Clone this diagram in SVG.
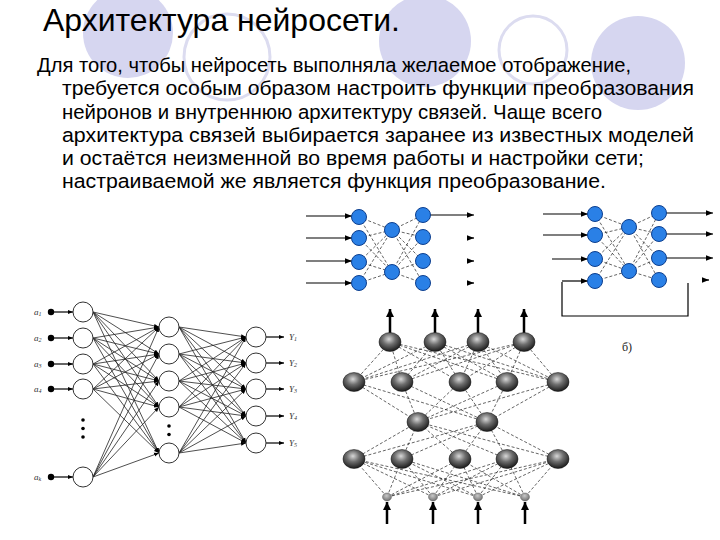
<svg xmlns="http://www.w3.org/2000/svg" width="720" height="540" viewBox="0 0 720 540">
<style>
.deco-f{fill:#d6d6f0;stroke:none}
.deco-o{fill:none;stroke:#dcdcf0;stroke-width:3}
.title{font-family:"Liberation Sans",Arial,sans-serif;font-size:32px;fill:#000}
.body{font-family:"Liberation Sans",Arial,sans-serif;font-size:20.5px;fill:#000}
.lbl{font-family:"Liberation Serif","Times New Roman",serif;font-style:italic;font-size:9px;fill:#333}
.sub{font-size:6px}
.wire{stroke:#222;stroke-width:0.8;fill:none}
.dash{stroke:#222;stroke-width:0.7;stroke-dasharray:3 2;fill:none}
.arr{stroke:#000;stroke-width:1.2;fill:none}
.thick{stroke:#000;stroke-width:2.5;fill:none}
.ncirc{fill:#fff;stroke:#333;stroke-width:1}
.blue{fill:#2a80e6;stroke:#0d3f8f;stroke-width:1}
.sph{fill:url(#sg);stroke:#111;stroke-width:0.5}
.sphs{fill:url(#sg2);stroke:#444;stroke-width:0.4}
</style>
<defs>
<marker id="ah" viewBox="0 0 10 10" refX="10" refY="5" markerWidth="5" markerHeight="5" orient="auto" markerUnits="userSpaceOnUse"><path d="M0,1 L10,5 L0,9 z" fill="#000"/></marker>
<marker id="ab" viewBox="0 0 10 10" refX="10" refY="5" markerWidth="7" markerHeight="7" orient="auto" markerUnits="userSpaceOnUse"><path d="M0,1 L10,5 L0,9 z" fill="#000"/></marker>
<marker id="at" viewBox="0 0 10 10" refX="10" refY="5" markerWidth="8" markerHeight="8" orient="auto" markerUnits="userSpaceOnUse"><path d="M0,0 L10,5 L0,10 z" fill="#000"/></marker>
<radialGradient id="sg" cx="0.45" cy="0.35" r="0.65">
<stop offset="0" stop-color="#d8d8d8"/><stop offset="0.45" stop-color="#6e6e6e"/><stop offset="1" stop-color="#1a1a1a"/>
</radialGradient>
<radialGradient id="sg2" cx="0.45" cy="0.35" r="0.65">
<stop offset="0" stop-color="#c8c8c8"/><stop offset="1" stop-color="#707070"/>
</radialGradient>
</defs>
<rect width="720" height="540" fill="#fff"/>
<g id="decor">
<circle class="deco-f" cx="128" cy="33" r="45"/>
<circle class="deco-o" cx="227" cy="57" r="43"/>
<circle class="deco-f" cx="425" cy="41" r="46"/>
<circle class="deco-o" cx="533" cy="50" r="34"/>
<circle class="deco-f" cx="638" cy="63" r="47"/>
</g>
<g id="title"><text class="title" x="43" y="31" textLength="357" lengthAdjust="spacingAndGlyphs">Архитектура нейросети.</text></g>
<g id="paragraph">
<text class="body" x="37" y="72" textLength="594" lengthAdjust="spacingAndGlyphs">Для того, чтобы нейросеть выполняла желаемое отображение,</text>
<text class="body" x="62" y="95" textLength="632" lengthAdjust="spacingAndGlyphs">требуется особым образом настроить функции преобразования</text>
<text class="body" x="62" y="118.5" textLength="540" lengthAdjust="spacingAndGlyphs">нейронов и внутреннюю архитектуру связей. Чаще всего</text>
<text class="body" x="62" y="142" textLength="632" lengthAdjust="spacingAndGlyphs">архитектура связей выбирается заранее из известных моделей</text>
<text class="body" x="62" y="165" textLength="582" lengthAdjust="spacingAndGlyphs">и остаётся неизменной во время работы и настройки сети;</text>
<text class="body" x="62" y="188" textLength="544" lengthAdjust="spacingAndGlyphs">настраиваемой же является функция преобразование.</text>
</g>

<!-- Left network -->
<g id="net-left-connectors">
<path class="arr" marker-end="url(#ah)" d="M51,312 L73,312"/>
<path class="arr" marker-end="url(#ah)" d="M51,338 L73,338"/>
<path class="arr" marker-end="url(#ah)" d="M51,364 L73,364"/>
<path class="arr" marker-end="url(#ah)" d="M51,389 L73,389"/>
<path class="arr" marker-end="url(#ah)" d="M51,477 L73,477"/>
<g class="wire" marker-end="url(#ah)">
<line x1="93" y1="312" x2="159" y2="327"/><line x1="93" y1="312" x2="159" y2="354"/><line x1="93" y1="312" x2="159" y2="381"/><line x1="93" y1="312" x2="159" y2="407"/><line x1="93" y1="312" x2="159" y2="453"/>
<line x1="93" y1="338" x2="159" y2="327"/><line x1="93" y1="338" x2="159" y2="354"/><line x1="93" y1="338" x2="159" y2="381"/><line x1="93" y1="338" x2="159" y2="407"/><line x1="93" y1="338" x2="159" y2="453"/>
<line x1="93" y1="364" x2="159" y2="327"/><line x1="93" y1="364" x2="159" y2="354"/><line x1="93" y1="364" x2="159" y2="381"/><line x1="93" y1="364" x2="159" y2="407"/><line x1="93" y1="364" x2="159" y2="453"/>
<line x1="93" y1="389" x2="159" y2="327"/><line x1="93" y1="389" x2="159" y2="354"/><line x1="93" y1="389" x2="159" y2="381"/><line x1="93" y1="389" x2="159" y2="407"/><line x1="93" y1="389" x2="159" y2="453"/>
<line x1="93" y1="477" x2="159" y2="327"/><line x1="93" y1="477" x2="159" y2="354"/><line x1="93" y1="477" x2="159" y2="381"/><line x1="93" y1="477" x2="159" y2="407"/><line x1="93" y1="477" x2="159" y2="453"/>
<line x1="179" y1="327" x2="246" y2="337"/><line x1="179" y1="327" x2="246" y2="363"/><line x1="179" y1="327" x2="246" y2="389"/><line x1="179" y1="327" x2="246" y2="416"/><line x1="179" y1="327" x2="246" y2="443"/>
<line x1="179" y1="354" x2="246" y2="337"/><line x1="179" y1="354" x2="246" y2="363"/><line x1="179" y1="354" x2="246" y2="389"/><line x1="179" y1="354" x2="246" y2="416"/><line x1="179" y1="354" x2="246" y2="443"/>
<line x1="179" y1="381" x2="246" y2="337"/><line x1="179" y1="381" x2="246" y2="363"/><line x1="179" y1="381" x2="246" y2="389"/><line x1="179" y1="381" x2="246" y2="416"/><line x1="179" y1="381" x2="246" y2="443"/>
<line x1="179" y1="407" x2="246" y2="337"/><line x1="179" y1="407" x2="246" y2="363"/><line x1="179" y1="407" x2="246" y2="389"/><line x1="179" y1="407" x2="246" y2="416"/><line x1="179" y1="407" x2="246" y2="443"/>
<line x1="179" y1="453" x2="246" y2="337"/><line x1="179" y1="453" x2="246" y2="363"/><line x1="179" y1="453" x2="246" y2="389"/><line x1="179" y1="453" x2="246" y2="416"/><line x1="179" y1="453" x2="246" y2="443"/>
</g>
<path class="arr" marker-end="url(#ah)" d="M266,337 L284,337"/>
<path class="arr" marker-end="url(#ah)" d="M266,363 L284,363"/>
<path class="arr" marker-end="url(#ah)" d="M266,389 L284,389"/>
<path class="arr" marker-end="url(#ah)" d="M266,416 L284,416"/>
<path class="arr" marker-end="url(#ah)" d="M266,443 L284,443"/>
</g>
<g id="net-left-nodes">
<g fill="#000"><circle cx="51" cy="312" r="3.2"/><circle cx="51" cy="338" r="3.2"/><circle cx="51" cy="364" r="3.2"/><circle cx="51" cy="389" r="3.2"/><circle cx="51" cy="477" r="3.2"/>
<circle cx="83" cy="420" r="1.8"/><circle cx="83" cy="428.5" r="1.8"/><circle cx="83" cy="437" r="1.8"/>
<circle cx="169" cy="426" r="1.8"/><circle cx="169" cy="434.5" r="1.8"/></g>
<circle class="ncirc" cx="83" cy="312" r="10"/><circle class="ncirc" cx="83" cy="338" r="10"/><circle class="ncirc" cx="83" cy="364" r="10"/><circle class="ncirc" cx="83" cy="389" r="10"/><circle class="ncirc" cx="83" cy="477" r="10"/>
<circle class="ncirc" cx="169" cy="327" r="10"/><circle class="ncirc" cx="169" cy="354" r="10"/><circle class="ncirc" cx="169" cy="381" r="10"/><circle class="ncirc" cx="169" cy="407" r="10"/><circle class="ncirc" cx="169" cy="453" r="10"/>
<circle class="ncirc" cx="256" cy="337" r="10"/><circle class="ncirc" cx="256" cy="363" r="10"/><circle class="ncirc" cx="256" cy="389" r="10"/><circle class="ncirc" cx="256" cy="416" r="10"/><circle class="ncirc" cx="256" cy="443" r="10"/>
<text class="lbl" x="34" y="315">a<tspan class="sub" dy="1">1</tspan></text>
<text class="lbl" x="34" y="341">a<tspan class="sub" dy="1">2</tspan></text>
<text class="lbl" x="34" y="367">a<tspan class="sub" dy="1">3</tspan></text>
<text class="lbl" x="34" y="392">a<tspan class="sub" dy="1">4</tspan></text>
<text class="lbl" x="34" y="480">a<tspan class="sub" dy="1">k</tspan></text>
<text class="lbl" x="289" y="340">Y<tspan class="sub" dy="1">1</tspan></text>
<text class="lbl" x="289" y="366">Y<tspan class="sub" dy="1">2</tspan></text>
<text class="lbl" x="289" y="392">Y<tspan class="sub" dy="1">3</tspan></text>
<text class="lbl" x="289" y="419">Y<tspan class="sub" dy="1">4</tspan></text>
<text class="lbl" x="289" y="446">Y<tspan class="sub" dy="1">5</tspan></text>
</g>

<!-- Blue network 1 -->
<g id="net-blue1-connectors">
<path class="dash" d="M359,217 L392,230 M359,217 L392,272 M359,238 L392,230 M359,238 L392,272 M359,262 L392,230 M359,262 L392,272 M359,283 L392,230 M359,283 L392,272 M392,230 L423,215 M392,230 L423,237 M392,230 L423,261 M392,230 L423,283 M392,272 L423,215 M392,272 L423,237 M392,272 L423,261 M392,272 L423,283"/>
<g class="arr" marker-end="url(#ab)">
<line x1="306" y1="216" x2="352" y2="216"/><line x1="306" y1="238" x2="352" y2="238"/><line x1="306" y1="261" x2="352" y2="261"/><line x1="306" y1="283" x2="352" y2="283"/>
<line x1="430" y1="215" x2="474" y2="215"/>
<line x1="468" y1="238" x2="474" y2="238"/><line x1="468" y1="261" x2="474" y2="261"/><line x1="468" y1="283" x2="474" y2="283"/>
</g>
</g>
<g id="net-blue1-nodes">
<circle class="blue" cx="359" cy="217" r="7.5"/><circle class="blue" cx="359" cy="238" r="7.5"/><circle class="blue" cx="359" cy="262" r="7.5"/><circle class="blue" cx="359" cy="283" r="7.5"/>
<circle class="blue" cx="392" cy="230" r="7.5"/><circle class="blue" cx="392" cy="272" r="7.5"/>
<circle class="blue" cx="423" cy="215" r="7.5"/><circle class="blue" cx="423" cy="237" r="7.5"/><circle class="blue" cx="423" cy="261" r="7.5"/><circle class="blue" cx="423" cy="283" r="7.5"/>
</g>

<!-- Blue network 2 -->
<g id="net-blue2-connectors">
<path class="dash" d="M595,214 L629,227 M595,214 L629,271 M595,235 L629,227 M595,235 L629,271 M595,259 L629,227 M595,259 L629,271 M595,281 L629,227 M595,281 L629,271 M629,227 L659,213 M629,227 L659,234 M629,227 L659,258 M629,227 L659,280 M629,271 L659,213 M629,271 L659,234 M629,271 L659,258 M629,271 L659,280"/>
<path class="arr" d="M562,282 L562,316 L688,316 L688,283"/>
<g class="arr" marker-end="url(#ab)">
<line x1="543" y1="214" x2="588" y2="214"/><line x1="543" y1="235" x2="588" y2="235"/><line x1="552" y1="259" x2="588" y2="259"/><line x1="562" y1="281" x2="588" y2="281"/>
<line x1="666" y1="213" x2="713" y2="213"/><line x1="666" y1="234" x2="713" y2="234"/><line x1="666" y1="258" x2="713" y2="258"/>
<line x1="703" y1="280" x2="709" y2="280"/>
</g>
</g>
<g id="net-blue2-nodes">
<circle class="blue" cx="595" cy="214" r="7.5"/><circle class="blue" cx="595" cy="235" r="7.5"/><circle class="blue" cx="595" cy="259" r="7.5"/><circle class="blue" cx="595" cy="281" r="7.5"/>
<circle class="blue" cx="629" cy="227" r="7.5"/><circle class="blue" cx="629" cy="271" r="7.5"/>
<circle class="blue" cx="659" cy="213" r="7.5"/><circle class="blue" cx="659" cy="234" r="7.5"/><circle class="blue" cx="659" cy="258" r="7.5"/><circle class="blue" cx="659" cy="280" r="7.5"/>
</g>

<!-- Sphere network -->
<g id="net-sphere-connectors">
<path class="dash" d="M390,342 L354,382 M390,342 L402,382 M390,342 L460,382 M390,342 L507,382 M390,342 L558,382 M435,342 L354,382 M435,342 L402,382 M435,342 L460,382 M435,342 L507,382 M435,342 L558,382 M478,342 L354,382 M478,342 L402,382 M478,342 L460,382 M478,342 L507,382 M478,342 L558,382 M524,342 L354,382 M524,342 L402,382 M524,342 L460,382 M524,342 L507,382 M524,342 L558,382"/>
<path class="dash" d="M354,382 L418,422 M402,382 L418,422 M460,382 L418,422 M507,382 L418,422 M558,382 L418,422 M354,382 L487,422 M402,382 L487,422 M460,382 L487,422 M507,382 L487,422 M558,382 L487,422"/>
<path class="dash" d="M354,459 L418,422 M402,459 L418,422 M460,459 L418,422 M507,459 L418,422 M558,459 L418,422 M354,459 L487,422 M402,459 L487,422 M460,459 L487,422 M507,459 L487,422 M558,459 L487,422"/>
<path class="dash" d="M387,497 L354,459 M387,497 L402,459 M387,497 L460,459 M387,497 L507,459 M387,497 L558,459 M433,497 L354,459 M433,497 L402,459 M433,497 L460,459 M433,497 L507,459 M433,497 L558,459 M478,497 L354,459 M478,497 L402,459 M478,497 L460,459 M478,497 L507,459 M478,497 L558,459 M525,497 L354,459 M525,497 L402,459 M525,497 L460,459 M525,497 L507,459 M525,497 L558,459"/>
<g class="thick" marker-end="url(#at)">
<line x1="390" y1="333" x2="390" y2="309"/><line x1="435" y1="333" x2="435" y2="309"/><line x1="478" y1="333" x2="478" y2="309"/><line x1="524" y1="333" x2="524" y2="309"/>
<line x1="387" y1="524" x2="387" y2="502"/><line x1="433" y1="524" x2="433" y2="502"/><line x1="478" y1="524" x2="478" y2="502"/><line x1="525" y1="524" x2="525" y2="502"/>
</g>
</g>
<g id="net-sphere-nodes">
<ellipse class="sph" cx="390" cy="342" rx="11" ry="9.5"/><ellipse class="sph" cx="435" cy="342" rx="11" ry="9.5"/><ellipse class="sph" cx="478" cy="342" rx="11" ry="9.5"/><ellipse class="sph" cx="524" cy="342" rx="11" ry="9.5"/>
<ellipse class="sph" cx="354" cy="382" rx="11" ry="9.5"/><ellipse class="sph" cx="402" cy="382" rx="11" ry="9.5"/><ellipse class="sph" cx="460" cy="382" rx="11" ry="9.5"/><ellipse class="sph" cx="507" cy="382" rx="11" ry="9.5"/><ellipse class="sph" cx="558" cy="382" rx="11" ry="9.5"/>
<ellipse class="sph" cx="418" cy="422" rx="11" ry="9.5"/><ellipse class="sph" cx="487" cy="422" rx="11" ry="9.5"/>
<ellipse class="sph" cx="354" cy="459" rx="11" ry="9.5"/><ellipse class="sph" cx="402" cy="459" rx="11" ry="9.5"/><ellipse class="sph" cx="460" cy="459" rx="11" ry="9.5"/><ellipse class="sph" cx="507" cy="459" rx="11" ry="9.5"/><ellipse class="sph" cx="558" cy="459" rx="11" ry="9.5"/>
<ellipse class="sphs" cx="387" cy="497" rx="4.5" ry="4"/><ellipse class="sphs" cx="433" cy="497" rx="4.5" ry="4"/><ellipse class="sphs" cx="478" cy="497" rx="4.5" ry="4"/><ellipse class="sphs" cx="525" cy="497" rx="4.5" ry="4"/>
</g>
<text x="622" y="351" font-family="Liberation Serif, serif" font-size="12" fill="#222">б)</text>
</svg>
